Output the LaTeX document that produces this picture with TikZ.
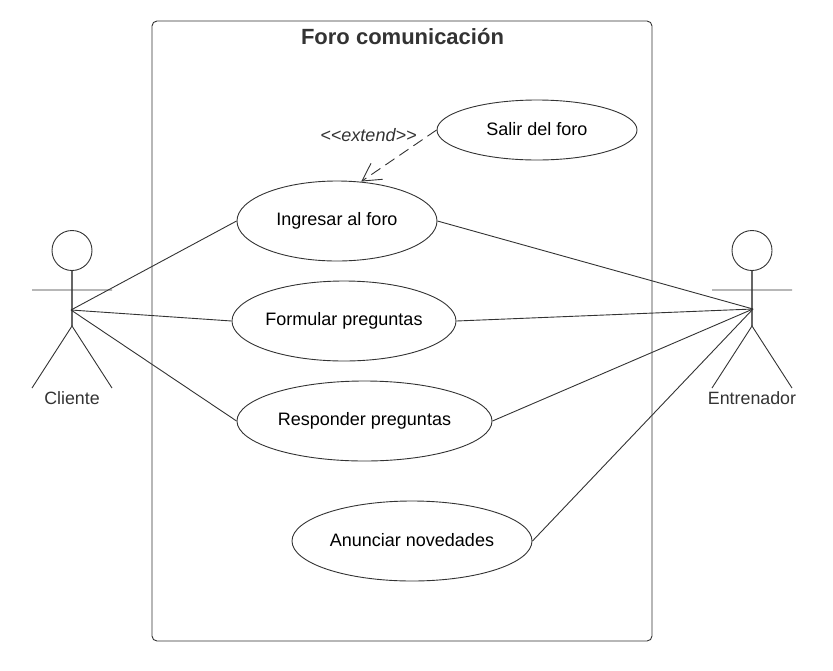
\documentclass[tikz,border=0pt]{standalone}
\usepackage{fontspec}
\setmainfont{Liberation Sans}
\usetikzlibrary{shapes.geometric}
\definecolor{ink}{HTML}{333333}
\tikzset{
  usecase/.style={draw=ink,line width=.9pt,ellipse,inner sep=0pt,minimum height=80pt,font=\fontsize{18}{20}\selectfont,text=black},
  link/.style={draw=ink,line width=.9pt},
  actorline/.style={draw=ink,line width=.9pt},
  actorspine/.style={draw=ink!75,line width=1.1pt},
  actorname/.style={font=\fontsize{17.8}{20}\selectfont,text=ink,inner sep=0pt},
  head/.style={draw=ink,line width=.9pt,circle,minimum size=40pt,inner sep=0pt},
  frame/.style={draw=ink,line width=.9pt,rounded corners=5pt,minimum width=500pt,minimum height=620pt,inner sep=0pt},
}
\begin{document}
\begin{tikzpicture}[x=1pt,y=-1pt]
\useasboundingbox (0,0) rectangle (833,670);
\node[frame] (sys) at (402,331) {};
\node[font=\bfseries\fontsize{22}{24}\selectfont,text=ink,inner sep=0pt] (title) at (402.5,37) {Foro comunicación};
\node[usecase,minimum width=200pt,minimum height=60pt] (salir) at (537,130) {\raisebox{3pt}{Salir del foro}};
\node[usecase,minimum width=200pt] (ing) at (337,221) {\raisebox{3pt}{Ingresar al foro}};
\node[usecase,minimum width=224pt] (form) at (344,321) {\raisebox{3pt}{Formular preguntas}};
\node[usecase,minimum width=255pt] (resp) at (364.5,421) {\raisebox{3pt}{Responder preguntas}};
\node[usecase,minimum width=240pt] (anun) at (412,541) {\raisebox{3pt}{Anunciar novedades}};
\node[font=\itshape\fontsize{18}{20}\selectfont,text=ink,inner sep=0pt] (ext) at (368.5,135) {<{}<extend>{}>};
% Cliente
\node[head] (h1) at (72,250.5) {};
\coordinate (c) at (71,310);
\coordinate (c1) at (72,326);
\coordinate (al1) at (32,290); \coordinate (ar1) at (112,290);
\coordinate (ll1) at (32,388); \coordinate (lr1) at (112,388);
\draw[actorspine] (h1.south) -- (c1);
\draw[actorline] (al1) -- (ar1) (ll1) -- (c1) -- (lr1);
\node[actorname] (n1) at (72,398) {Cliente};
% Entrenador
\node[head] (h2) at (752,250.5) {};
\coordinate (e) at (753,309);
\coordinate (c2) at (752,326);
\coordinate (al2) at (712,290); \coordinate (ar2) at (792,290);
\coordinate (ll2) at (712,388); \coordinate (lr2) at (792,388);
\draw[actorspine] (h2.south) -- (c2);
\draw[actorline] (al2) -- (ar2) (ll2) -- (c2) -- (lr2);
\node[actorname] (n2) at (752,398) {Entrenador};
% links
\draw[link] (c) -- (ing.west);
\draw[link] (c) -- (form.west);
\draw[link] (c) -- (resp.west);
\draw[link] (e) -- (ing.east);
\draw[link] (e) -- (form.east);
\draw[link] (e) -- (resp.east);
\draw[link] (e) -- (anun.east);
\coordinate (tip) at (362,181);
\coordinate (b1) at (371,163.3);
\coordinate (b2) at (382.7,179.3);
\draw[link,dash pattern=on 11pt off 6pt] (salir.west) -- (tip);
\draw[link] (b1) -- (tip) -- (b2);
\end{tikzpicture}
\end{document}
